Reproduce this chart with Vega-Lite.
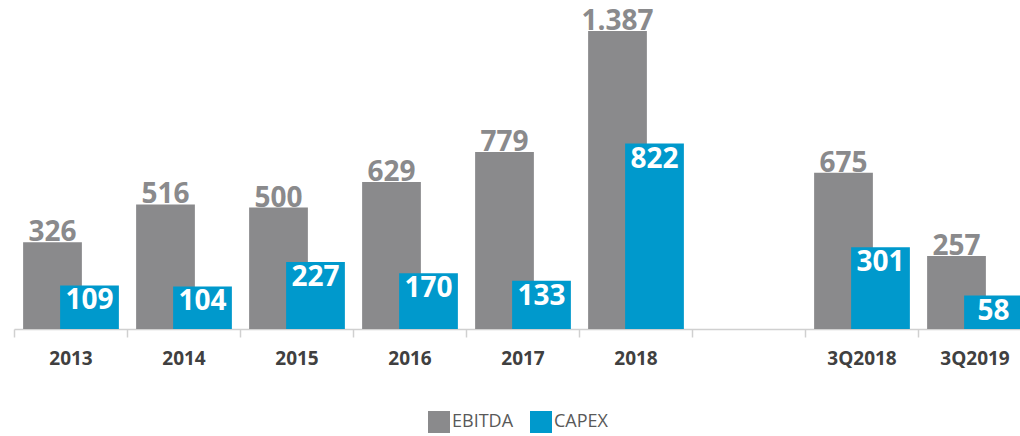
{
  "$schema": "https://vega.github.io/schema/vega-lite/v6.json",
  "width": 1006,
  "height": 329,
  "autosize": "none",
  "padding": {"left": 14, "top": 0, "right": 0, "bottom": 107},
  "background": "white",
  "config": {
    "font": "Open Sans",
    "view": {"stroke": null},
    "locale": {"number": {"decimal": ",", "thousands": ".", "grouping": [3], "currency": ["", "€"]}}
  },
  "data": {
    "values": [
      {"cat": "2013", "series": "EBITDA", "value": 326},
      {"cat": "2013", "series": "CAPEX", "value": 109},
      {"cat": "2014", "series": "EBITDA", "value": 516},
      {"cat": "2014", "series": "CAPEX", "value": 104},
      {"cat": "2015", "series": "EBITDA", "value": 500},
      {"cat": "2015", "series": "CAPEX", "value": 227},
      {"cat": "2016", "series": "EBITDA", "value": 629},
      {"cat": "2016", "series": "CAPEX", "value": 170},
      {"cat": "2017", "series": "EBITDA", "value": 779},
      {"cat": "2017", "series": "CAPEX", "value": 133},
      {"cat": "2018", "series": "EBITDA", "value": 1387},
      {"cat": "2018", "series": "CAPEX", "value": 822},
      {"cat": "3Q2018", "series": "EBITDA", "value": 675},
      {"cat": "3Q2018", "series": "CAPEX", "value": 301},
      {"cat": "3Q2019", "series": "EBITDA", "value": 257},
      {"cat": "3Q2019", "series": "CAPEX", "value": 58}
    ]
  },
  "encoding": {
    "x": {
      "field": "cat",
      "type": "nominal",
      "sort": null,
      "scale": {
        "domain": ["2013", "2014", "2015", "2016", "2017", "2018", " ", "3Q2018", "3Q2019"],
        "range": [0, 1017],
        "paddingInner": 0,
        "paddingOuter": 0
      },
      "axis": {
        "title": null,
        "labelAngle": 0,
        "labelFont": "Open Sans",
        "labelFontSize": 19,
        "labelFontWeight": "bold",
        "labelColor": "#404040",
        "labelPadding": 12,
        "tickBand": "extent",
        "tickSize": 8,
        "tickColor": "#D0D0D0",
        "tickWidth": 1.5,
        "domainColor": "#D0D0D0",
        "domainWidth": 1.5,
        "grid": false
      }
    },
    "y": {
      "field": "value",
      "type": "quantitative",
      "scale": {"domain": [-110, 1543], "nice": false, "zero": false},
      "axis": null
    }
  },
  "layer": [
    {
      "transform": [{"filter": "datum.series === 'EBITDA'"}],
      "mark": {"type": "bar", "width": {"band": 0.52}, "xOffset": -18},
      "encoding": {
        "y2": {"datum": -110},
        "color": {
          "field": "series",
          "type": "nominal",
          "scale": {"domain": ["EBITDA", "CAPEX"], "range": ["#8A8A8C", "#0099CC"]},
          "legend": {
            "title": null,
            "orient": "none",
            "direction": "horizontal",
            "legendX": 414,
            "legendY": 411,
            "symbolType": "square",
            "symbolSize": 484,
            "symbolStrokeWidth": 0,
            "symbolOpacity": 1,
            "labelFontSize": 18,
            "labelColor": "#595959",
            "labelOffset": 2,
            "columnPadding": 16
          }
        }
      }
    },
    {
      "transform": [{"filter": "datum.series === 'CAPEX'"}],
      "mark": {"type": "bar", "width": {"band": 0.52}, "xOffset": 19},
      "encoding": {
        "y2": {"datum": -110},
        "color": {"field": "series", "type": "nominal"}
      }
    },
    {
      "transform": [{"filter": "datum.series === 'EBITDA'"}],
      "mark": {"type": "text", "xOffset": -18, "align": "center", "baseline": "alphabetic", "dy": -1, "fontSize": 28, "fontWeight": "bold", "color": "#8A8A8C"},
      "encoding": {"text": {"field": "value", "type": "quantitative", "format": ",d"}}
    },
    {
      "transform": [{"filter": "datum.series === 'CAPEX'"}],
      "mark": {"type": "text", "xOffset": 19, "align": "center", "baseline": "top", "dy": 2, "fontSize": 28, "fontWeight": "bold", "color": "white"},
      "encoding": {"text": {"field": "value", "type": "quantitative", "format": ",d"}}
    }
  ]
}
